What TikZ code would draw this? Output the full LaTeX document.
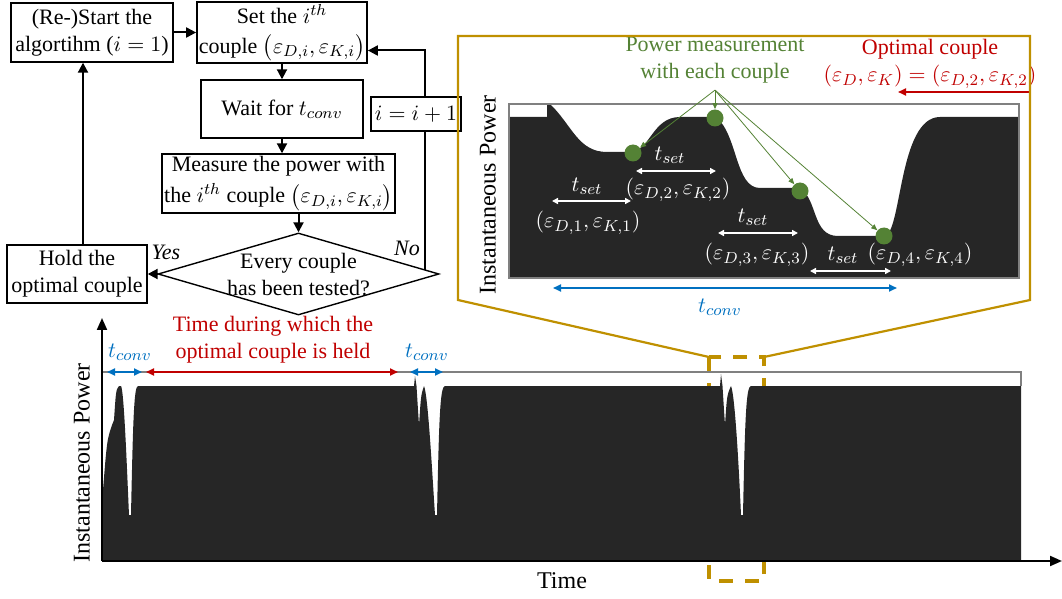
\documentclass[tikz,border=0pt]{standalone}
\usepackage{fontspec}
\setmainfont{Liberation Serif}
\usepackage{amsmath}
\usetikzlibrary{arrows.meta,shapes.geometric}

\definecolor{goldline}{HTML}{BF9000}
\definecolor{optred}{HTML}{C00000}
\definecolor{convblue}{HTML}{0070C0}
\definecolor{measgreen}{HTML}{548235}
\definecolor{sigfill}{HTML}{262626}

\tikzset{
  blk/.style={draw, line width=0.7pt, fill=white, align=center, inner sep=1pt},
  flow/.style={line width=1pt, -{Triangle[length=5pt,width=5pt]}},
  axis/.style={line width=1pt, -{Triangle[length=6pt,width=5pt]}},
  dot/.style={circle, fill=measgreen, minimum size=8.5pt, inner sep=0pt},
  garrow/.style={measgreen, line width=0.4pt, -{Triangle[length=3pt,width=2.5pt]}},
  wdim/.style={white, line width=0.9pt, {Triangle[length=3pt,width=3pt]}-{Triangle[length=3pt,width=3pt]}},
  bdim/.style={convblue, line width=0.9pt, {Triangle[length=4pt,width=3.5pt]}-{Triangle[length=4pt,width=3.5pt]}},
  rdim/.style={optred, line width=0.9pt, {Triangle[length=4pt,width=3.5pt]}-{Triangle[length=4pt,width=3.5pt]}},
  wlbl/.style={text=white},
  bigfont/.style={font=\fontsize{12}{14}\selectfont}
}

\begin{document}
\begin{tikzpicture}[x=0.5pt,y=-0.5pt,font=\fontsize{11}{13.5}\selectfont]
\useasboundingbox (0,0) rectangle (1062,599);

% flowchart
\node[blk, minimum width=81pt, minimum height=29.5pt] (start) at (92,32.5) {(Re-)Start the\\algortihm ($i=1$)};
\node[blk, minimum width=81pt, minimum height=29.5pt, font=\fontsize{11}{15}\selectfont] (set) at (282,32.5) {Set the $i^{th}$\\couple $\big(\varepsilon_{D,i},\varepsilon_{K,i}\big)$};
\node[blk, minimum width=81pt, minimum height=29pt] (wait) at (282,109) {Wait for $t_{conv}$};
\node[blk, minimum width=116.5pt, minimum height=29.5pt, font=\fontsize{11}{15.5}\selectfont] (meas) at (278.5,183.5) {Measure the power with\\the $i^{th}$ couple $\big(\varepsilon_{D,i},\varepsilon_{K,i}\big)$};
\node[draw, diamond, line width=0.7pt, minimum width=140.5pt, minimum height=41pt, inner sep=0pt] (dia) at (298.5,274) {};
\node[align=center] (diatxt) at (298.5,275) {Every couple\\has been tested?};
\node[blk, minimum width=70pt, minimum height=29pt] (hold) at (77,274) {Hold the\\optimal couple};

\draw[flow] (start) -- (set);
\draw[flow] (set) -- (wait);
\draw[flow] (wait.south) -- (wait.south |- meas.north);
\draw[flow] (dia.north |- meas.south) -- (dia.north);
\draw[flow] (dia.west) -- (hold.east);
\draw[flow] ([xshift=3pt]hold.north) -- ([xshift=3pt]hold.north |- start.south);
\draw[flow] (dia.2) |- ([yshift=-9pt]set.east);
\node[blk, minimum width=45pt, minimum height=17pt] (inc) at (416,114) {$i=i+1$};
\node[font=\fontsize{11}{13.5}\itshape] (yes) at (166,252) {Yes};
\node[font=\fontsize{11}{13.5}\itshape] (no) at (407,248) {No};

% zoomed signal
\fill[sigfill] (510,278) -- (510,117) -- (547,117) -- (547,104) -- (550,104)
  .. controls (572,125) and (578,152) .. (607,152) -- (630,152)
  .. controls (650,152) and (652,117) .. (680,117) -- (716,117)
  .. controls (738,135) and (735,188) .. (760,188) -- (800,188)
  .. controls (818,200) and (812,236) .. (838,236) -- (884,236)
  .. controls (902,236) and (898,117) .. (940,117) -- (1019,117) -- (1019,278) -- cycle;
\draw[gray, line width=0.6pt] (509,104) rectangle (1019,278);
\node[bigfont, rotate=90] (zylab) at (488,195) {Instantaneous Power};

\node[dot] (d1) at (633,153) {};
\node[dot] (d2) at (715,118) {};
\node[dot] (d3) at (800,191) {};
\node[dot] (d4) at (884,236) {};
\node[measgreen, align=center] (gtext) at (715,60) {Power measurement\\with each couple};
\foreach \d in {d1,d2,d3,d4}
  \draw[garrow] (gtext.south) -- (\d);

\coordinate (s1a) at (552,201); \coordinate (s1b) at (631,201);
\coordinate (s2a) at (636,171); \coordinate (s2b) at (716,171);
\coordinate (s3a) at (718,233); \coordinate (s3b) at (798,233);
\coordinate (s4a) at (810,271); \coordinate (s4b) at (891,271);
\draw[wdim] (s1a) -- (s1b);
\draw[wdim] (s2a) -- (s2b);
\draw[wdim] (s3a) -- (s3b);
\draw[wdim] (s4a) -- (s4b);
\node[wlbl] (ts1) at (587,186) {$t_{set}$};
\node[wlbl] (cp1) at (588,223) {$(\varepsilon_{D,1},\varepsilon_{K,1})$};
\node[wlbl] (ts2) at (670,155) {$t_{set}$};
\node[wlbl] (cp2) at (678,190) {$(\varepsilon_{D,2},\varepsilon_{K,2})$};
\node[wlbl] (ts3) at (753,217) {$t_{set}$};
\node[wlbl] (cp3) at (757,255) {$(\varepsilon_{D,3},\varepsilon_{K,3})$};
\node[wlbl] (ts4) at (843,255) {$t_{set}$};
\node[wlbl] (cp4) at (920,255) {$(\varepsilon_{D,4},\varepsilon_{K,4})$};

\coordinate (za) at (553,288); \coordinate (zb) at (897,288);
\draw[bdim] (za) -- (zb);
\node[convblue] (ztc) at (720,307) {$t_{conv}$};

\node[optred, align=center] (opt) at (930,64) {Optimal couple\\$(\varepsilon_D,\varepsilon_K)=(\varepsilon_{D,2},\varepsilon_{K,2})$};
\coordinate (optfrom) at (1030,92); \coordinate (optto) at (898,92);
\draw[optred, line width=0.9pt, -{Triangle[length=4pt,width=3.5pt]}] (optfrom) -- (optto);

% gold zoom frame
\draw[goldline, line width=1.1pt] (709,357) -- (458,300) -- (458,36) -- (1030,36) -- (1030,300) -- (764,357);
\draw[goldline, line width=1.6pt, dash pattern=on 7pt off 6pt] (709,357) rectangle (764,581);

% full signal
\draw[gray, line width=0.8pt] (102,372) -- (1021,372) -- (1021,386);
\fill[sigfill] (103,560) -- (103,490) .. controls (107,440) .. (112,425) -- (114,420)
  .. controls (116,390) .. (119,386) -- (121,386) .. controls (124,390) and (127,470) .. (129,515)
  -- (131,515) .. controls (133,420) and (134,386) .. (138,386)
  -- (414,386) -- (415,376) -- (416.5,386) .. controls (418,410) .. (419,425)
  .. controls (421,395) .. (424,386) .. controls (428,395) and (432,470) .. (435,515)
  -- (437,515) .. controls (439,420) and (440,386) .. (445,386)
  -- (720,386) -- (721,374) -- (722.5,386) .. controls (724,410) .. (725,425)
  .. controls (727,395) .. (731,386) .. controls (735,395) and (739,470) .. (741,515)
  -- (743,515) .. controls (745,420) and (746,386) .. (751,386)
  -- (1021,386) -- (1021,560) -- cycle;
\coordinate (orig) at (102,561);
\coordinate (ytop) at (102,318);
\coordinate (xend) at (1062,561);
\draw[axis] (orig) -- (ytop);
\draw[axis] (orig) -- (xend);
\node[bigfont, rotate=90] (ylab) at (82,463) {Instantaneous Power};
\node[bigfont] (xlab) at (562,581) {Time};

\coordinate (c1a) at (107,372); \coordinate (c1b) at (142,372);
\coordinate (h1a) at (146,372); \coordinate (h1b) at (398,372);
\coordinate (c2a) at (410,372); \coordinate (c2b) at (443,372);
\draw[bdim] (c1a) -- (c1b);
\draw[rdim] (h1a) -- (h1b);
\draw[bdim] (c2a) -- (c2b);
\node[convblue] (tc1) at (130,352) {$t_{conv}$};
\node[convblue] (tc2) at (427,352) {$t_{conv}$};
\node[optred, align=center] (held) at (273,340) {Time during which the\\optimal couple is held};
\end{tikzpicture}
\end{document}
